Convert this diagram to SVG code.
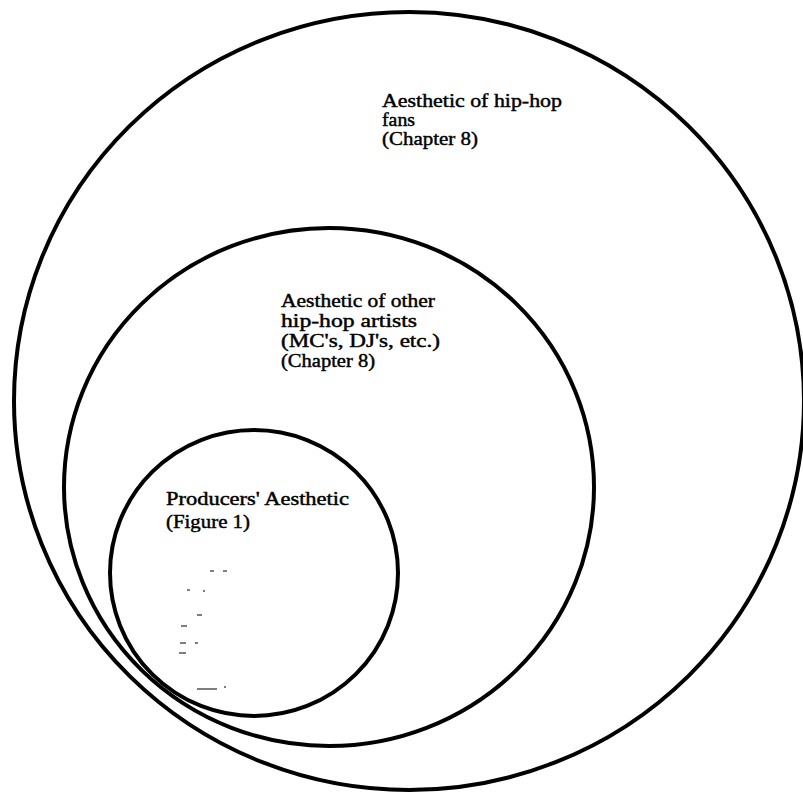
<svg xmlns="http://www.w3.org/2000/svg" width="803" height="793" viewBox="0 0 803 793">
<style>
.ring{fill:none;stroke:#000;stroke-width:4}
.lbl{font-family:"Liberation Serif","Times New Roman",serif;font-size:19px;fill:#000;stroke:#000;stroke-width:0.45}
.spk{stroke:#000;stroke-width:1.2;fill:none}
</style>
<rect width="803" height="793" fill="#fff"/>
<g id="fans">
<ellipse class="ring" cx="409" cy="401" rx="395" ry="389"/>
<text class="lbl"><tspan x="382" y="107" textLength="180" lengthAdjust="spacingAndGlyphs">Aesthetic of hip-hop</tspan><tspan x="382" y="126" textLength="33" lengthAdjust="spacingAndGlyphs">fans</tspan><tspan x="382" y="145" textLength="96" lengthAdjust="spacingAndGlyphs">(Chapter 8)</tspan></text>
</g>
<g id="artists">
<ellipse class="ring" cx="329" cy="487" rx="265" ry="259"/>
<text class="lbl"><tspan x="281" y="307" textLength="154" lengthAdjust="spacingAndGlyphs">Aesthetic of other</tspan><tspan x="281" y="327" textLength="136" lengthAdjust="spacingAndGlyphs">hip-hop artists</tspan><tspan x="281" y="347" textLength="159" lengthAdjust="spacingAndGlyphs">(MC's, DJ's, etc.)</tspan><tspan x="281" y="367" textLength="94" lengthAdjust="spacingAndGlyphs">(Chapter 8)</tspan></text>
</g>
<g id="producers">
<ellipse class="ring" cx="254" cy="573" rx="144" ry="143"/>
<text class="lbl"><tspan x="166" y="505" textLength="183" lengthAdjust="spacingAndGlyphs">Producers' Aesthetic</tspan><tspan x="166" y="528" textLength="84" lengthAdjust="spacingAndGlyphs">(Figure 1)</tspan></text>
</g>
<g id="marks">
<path class="spk" d="M210 571h4M223 571h4M187 590h3M203 591h2M197 615h5M181 626h6M180 643h6M195 643h3M179 653h7M197 689h20M224 687h2"/>
</g>
<g id="connectors"></g>
</svg>
